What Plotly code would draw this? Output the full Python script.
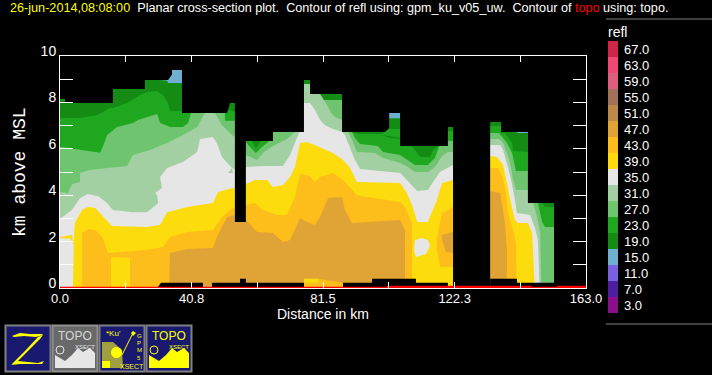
import plotly.graph_objects as go

W, H = 712, 375

# ---------- legend ----------
legend_levels = ["3.0", "7.0", "11.0", "15.0", "19.0", "23.0", "27.0", "31.0", "35.0",
                 "39.0", "43.0", "47.0", "51.0", "55.0", "59.0", "63.0", "67.0"]
legend_colors = ["#8b0f8b", "#4b1f9f", "#7b60e0", "#6fafd0", "#148c14", "#1fa81f", "#6fc46f",
                 "#a3d0a3", "#e6e6e6", "#fcdc0c", "#fdbd1a", "#e0a335", "#bd884a", "#a3705a",
                 "#de5f7d", "#f04873", "#cf2548"]

# ---------- reflectivity contours: upper edge of each band (km, km) ----------
c15, c19, c23, c27, c31, c35, c39, c43, c47 = ("#6fafd0", "#148c14", "#1fa81f", "#6fc46f", "#a3d0a3",
                                               "#e6e6e6", "#fcdc0c", "#fdbd1a", "#e0a335")
top_15 = [(0, 10), (163, 10)]
top_19 = [(0, 10), (31.3, 10), (31.3, 8.97), (33.2, 8.93), (33.5, 8.84), (37.8, 8.84), (37.8, 10), (102, 10),
          (102, 7.32), (105.4, 7.32), (105.4, 10), (141.6, 10), (141.6, 6.68), (145, 6.68), (145, 10), (163, 10)]
top_23 = [(0, 7.33), (6.2, 7.33), (11.5, 7.46), (15.5, 7.76), (16.4, 7.76), (20.8, 7.97), (24.8, 8.32), (27, 8.45),
          (30.1, 8.49), (31.9, 8.32), (33.5, 7.97), (34.1, 7.63), (37.8, 7.63), (51.4, 7.63), (52.7, 7.67), (54.2, 7.59),
          (57.6, 6.34), (59.5, 6.34), (60.7, 6.03), (62.3, 6.34), (63.2, 7.24), (89.9, 7.24), (90.5, 6.72), (92.3, 6.64),
          (99.5, 6.64), (99.8, 6.59), (102.3, 6.47), (105.4, 6.42), (105.4, 6.12), (108.8, 6.12), (110, 5.95), (111.6, 5.65),
          (114.7, 5.65), (115.6, 5.95), (117.1, 6.12), (120.2, 6.12), (120.2, 6.77), (121.8, 6.77), (133.3, 6.98),
          (136.7, 6.98), (136.7, 6.68), (137.9, 6.68), (140.1, 6.25), (140.4, 5.9), (145, 5.86), (145, 7.24), (148.8, 7.24),
          (148.8, 3.79), (150.3, 3.49), (153.1, 3.49), (163, 3.49)]
top_27 = [(0, 6.09), (6.2, 5.95), (12.4, 5.83), (13.3, 6.09), (14.6, 6.59), (17.7, 6.94), (22.6, 7.11), (24.2, 7.24),
          (30.1, 7.5), (31, 7.12), (34.1, 6.94), (38.1, 6.94), (39.7, 7.11), (40.6, 7.54), (40.6, 8.1), (51.1, 8.1),
          (51.1, 7.21), (54.2, 7.21), (57.6, 6.29), (58.9, 6.08), (60.7, 5.82), (62.6, 6.08), (64.5, 6.29), (65.1, 6.51),
          (65.4, 8.1), (89.9, 8.1), (90.5, 6.72), (91.4, 6.47), (93, 6.21), (98.5, 6.12), (100.1, 5.86), (105.4, 5.73),
          (107.8, 5.52), (110, 5.3), (114, 5.3), (116.2, 5.6), (117.5, 6.12), (118.7, 6.12), (120.2, 6.34), (121.8, 6.34),
          (133.3, 6.68), (136, 6.68), (137.3, 6.47), (138.5, 6.25), (140.1, 5.82), (141, 5.22), (141.3, 5.04), (145, 5.04),
          (145, 8.1), (147.8, 8.1), (148.1, 3.66), (149.4, 2.84), (150.3, 2.63), (153.1, 2.63), (163, 2.63)]
top_31 = [(0, 4.14), (2.5, 4.09), (3.7, 4.48), (6.2, 4.57), (6.2, 4.96), (9.3, 5.09), (14.6, 5.17), (20.8, 5.26),
          (22.6, 5.73), (27.9, 5.95), (33.2, 6.25), (38.1, 6.59), (42.5, 6.94), (44.9, 7.54), (48, 7.54), (50.2, 7.02),
          (53.3, 6.59), (54.2, 6.51), (57.6, 5.73), (58.9, 5.65), (61.1, 5.52), (62.9, 5.82), (66, 6.12), (70.3, 6.42),
          (72.8, 6.72), (75.6, 6.72), (75.6, 8.79), (77.5, 8.79), (80.6, 8.36), (83.1, 7.8), (84, 7.54), (85.2, 7.37),
          (87.4, 7.24), (89.3, 6.72), (90.8, 6.29), (92, 5.86), (97.6, 5.82), (100.1, 5.6), (105.4, 5.39), (107.8, 5.22),
          (110, 5.0), (114, 5.0), (116.2, 5.22), (118.4, 5.69), (120.2, 5.86), (121.8, 5.86), (133.3, 6.42), (136, 6.42),
          (137.3, 6.25), (138.5, 5.82), (139.5, 5.39), (140.4, 4.65), (141.3, 4.22), (146.3, 4.22), (146.6, 3.66),
          (147.8, 3.06), (148.8, 2.37), (149.1, 0.34), (149.4, 0), (163, 0)]
top_35 = [(0, 2.97), (3.7, 3.36), (6.2, 3.88), (8.7, 4.05), (11.8, 3.96), (14.6, 3.66), (16.4, 3.36), (22.6, 3.27),
          (27, 3.27), (30.4, 3.66), (30.1, 4.0), (29.5, 4.09), (31.6, 4.31), (31, 4.78), (33.2, 5.17), (38.1, 5.43),
          (42.5, 5.86), (43.4, 6.42), (47.4, 6.51), (48.6, 6.25), (50.2, 5.65), (52.7, 5.26), (54.2, 5.09), (57.6, 5.22),
          (64.2, 5.26), (69.1, 5.26), (71.3, 5.73), (72.8, 6.25), (73.7, 6.51), (74.4, 6.81), (75.6, 7.97), (77.5, 7.97),
          (79, 7.67), (80.6, 7.24), (82.1, 7.02), (84.6, 6.85), (87.4, 6.72), (88.3, 6.59), (89.9, 6.03), (91.4, 5.52),
          (93, 5.13), (102.3, 5.0), (105.4, 4.96), (107.5, 4.65), (110.7, 4.18), (114, 4.22), (115.6, 4.57), (117.7, 5.0),
          (121.8, 5.3), (133.3, 6.16), (136.4, 6.16), (137.3, 5.95), (138.8, 5.22), (139.8, 4.65), (141, 3.79),
          (141.6, 3.23), (145.7, 3.15), (147.2, 2.59), (148.1, 2.07), (148.4, 0.22), (148.6, 0), (163, 0)]
top_39 = [(0, 0), (4, 0), (4.3, 2.07), (4.6, 2.8), (6.8, 3.36), (8.7, 3.49), (10.9, 3.45), (13, 3.15), (16.1, 2.67),
          (27, 2.63), (31, 2.72), (33.2, 3.27), (39.4, 3.49), (47.4, 3.66), (49, 4.14), (53.6, 4.31), (57.6, 4.48),
          (60.4, 4.65), (64.2, 4.65), (66, 4.35), (69.1, 4.44), (71.3, 4.78), (72.8, 5.22), (74.4, 6.25), (76.5, 6.29),
          (79.6, 6.12), (84.6, 5.82), (87.7, 5.52), (89.9, 5.17), (92, 4.57), (105.4, 4.53), (107.5, 4.09), (109.1, 3.58),
          (110.7, 2.84), (114, 2.84), (116.8, 3.79), (118.4, 4.53), (121.8, 4.65), (133.3, 5.69), (135.4, 5.65),
          (137.3, 5.3), (138.5, 4.53), (139.5, 3.79), (141, 2.93), (141.9, 2.8), (145, 2.8), (146.3, 2.37), (146.6, 1.51),
          (146.9, 0.22), (147.1, 0), (163, 0)]
top_43 = [(0, 0), (6.8, 0), (6.8, 2.37), (8.7, 2.54), (10.9, 2.5), (13.3, 2.16), (14.9, 1.51), (21.1, 1.59), (27, 1.64),
          (31.9, 1.77), (34.1, 2.2), (39.4, 2.41), (47.4, 2.5), (50.2, 3.06), (53.6, 3.45), (60.4, 3.66), (62.9, 3.36),
          (67.3, 3.15), (70.3, 3.15), (72.8, 3.92), (74.4, 4.91), (77.5, 4.83), (79, 4.57), (80.6, 4.78), (84.6, 4.96),
          (87.7, 4.65), (89.9, 4.31), (92, 4.0), (95.2, 3.92), (105.4, 3.71), (106.9, 3.49), (109.1, 2.8), (109.1, 0),
          (133.3, 0), (133.3, 5.17), (135.7, 5.17), (137.3, 4.74), (138.2, 4.09), (138.8, 3.23), (140.4, 2.5),
          (141.3, 1.94), (141.5, 0), (163, 0)]
top_47 = [(0, 0), (33.8, 0), (34.1, 1.51), (39.4, 1.68), (47.4, 1.72), (48.6, 2.2), (51.8, 3.06), (54.2, 3.15),
          (57.6, 2.93), (61.1, 2.41), (66, 2.37), (69.1, 1.98), (71.3, 2.07), (72.8, 2.5), (74.4, 3.02), (76.5, 2.84),
          (79, 2.72), (80.6, 3.06), (83.1, 3.88), (87.4, 3.92), (88.3, 3.36), (90.5, 2.8), (105.4, 2.93), (106.9, 2.5),
          (106.9, 0.4), (107.2, 0), (133.3, 0), (133.3, 4.18), (136.4, 4.09), (137.9, 2.8), (138.5, 1.64), (138.5, 0.4),
          (138.7, 0), (163, 0)]

# ---------- closed pockets inside bands ----------
pocket_23 = [(99.5, 6.59), (100.7, 6.77), (102, 6.85), (105.4, 6.85), (105.4, 6.47), (102.3, 6.55)]
pocket_31 = [(52.1, 4.96), (53.3, 5.17), (53.6, 4.96)]
pocket_39_a = [(15.8, 1.34), (21.7, 1.29), (21.7, 0), (15.8, 0)]
pocket_39_b = [(0, 2.2), (3.7, 2.28), (4.3, 1.85), (3.2, 2.12), (0, 2.16)]
pocket_43_a = [(116.8, 2.16), (118.4, 3.23), (121.8, 3.49), (121.8, 0.9), (117.8, 0.9), (116.8, 1.64)]
pocket_43_b = [(75.6, 0.23), (80, 0.4), (87.7, 0.23), (87.7, 0), (75.6, 0)]
pocket_39_c = [(75.6, 0.4), (80.3, 0.4), (80, 0.23), (75.6, 0.23)]
pocket_47 = [(118.4, 2.28), (121.8, 2.41), (121.8, 1.51), (119.6, 1.55), (118.4, 2.07)]
pocket_35 = [(110, 2.07), (112.2, 2.16), (114, 2.07), (114.7, 1.81), (113.4, 1.47), (110.3, 1.34), (109.7, 1.64)]

# ---------- no-data above echo top, and below beam ----------
echo_top = [(0, 8.15), (1.55, 8.15), (1.55, 7.97), (16.4, 7.97), (16.4, 8.58), (26.3, 8.58), (26.3, 8.97), (33.5, 8.97),
            (34.7, 9.2), (34.7, 9.4), (37.8, 9.4), (37.8, 7.54), (51.8, 7.54), (52.7, 7.97), (54.2, 7.97), (54.2, 2.84),
            (57.6, 2.84), (57.6, 6.34), (66, 6.34), (66, 6.72), (75.6, 6.72), (75.6, 8.97), (77.5, 8.97), (77.5, 8.36),
            (87.4, 8.36), (87.4, 6.72), (100.7, 6.72), (102, 6.9), (102, 7.54), (105.4, 7.54), (105.4, 6.12), (120.2, 6.12),
            (120.2, 6.94), (121.8, 6.94), (121.8, 0), (133.3, 0), (133.3, 7.16), (136.7, 7.16), (136.7, 6.72), (145, 6.72),
            (145, 3.66), (153.1, 3.66), (153.1, 0), (163, 0), (163, 10), (0, 10)]
echo_base = [(0, 0), (30.1, 0), (31.3, 0.23), (44.3, 0.23), (44.3, 0), (47.1, 0), (47.1, 0.23), (55.8, 0.23), (55.8, 0.4),
             (57.6, 0.4), (57.6, 0.23), (75.6, 0.23), (75.6, 0), (87.7, 0), (87.7, 0.23), (96.7, 0.23), (96.7, 0.4),
             (110.3, 0.4), (110.3, 0.23), (120.2, 0.23), (120.2, 0), (133.3, 0), (133.3, 0.4), (141.6, 0.4), (141.6, 0.23),
             (153.1, 0.23), (163, 0)]

# ---------- topography (red) ----------
topo = [(0, 0.05), (101.3, 0.05), (101.3, 0.1), (146, 0.1), (146, 0.05), (154, 0.05), (154, 0.1), (163, 0.1)]

# ---------- texts ----------
x_tickvals = [0, 20.4, 40.8, 61.1, 81.5, 101.9, 122.3, 142.6, 163]
x_ticktext = ["0.0", "", "40.8", "", "81.5", "", "122.3", "", "163.0"]
y_tickvals = list(range(11))
y_ticktext = ["0", "", "2", "", "4", "", "6", "", "8", "", "10"]

FONT = "Liberation Sans"
fig = go.Figure()


def area(points, color, closed=False):
    xs = [p[0] for p in points]
    ys = [p[1] for p in points]
    if not closed:
        xs = xs + [xs[-1], xs[0]]
        ys = ys + [0, 0]
    fig.add_trace(go.Scatter(x=xs, y=ys, mode="lines", line=dict(width=0), fill="toself",
                             fillcolor=color, hoverinfo="skip", showlegend=False))


area(top_15, c15)
area(top_19, c19)
area(top_23, c23)
area(pocket_23, c23, True)
area(top_27, c27)
area(top_31, c31)
area(top_35, c35)
area(pocket_31, c31, True)
area(top_39, c39)
area(pocket_39_b, c39, True)
area(pocket_35, c35, True)
area(top_43, c43)
area(pocket_39_a, c39, True)
area(pocket_43_a, c43, True)
area(top_47, c47)
area(pocket_47, c47, True)
area(pocket_43_b, c43, True)
area(pocket_39_c, c39, True)
area(echo_top, "#000000", True)
area(echo_base, "#000000")
area(topo, "#ff0000")

fig.add_trace(go.Bar(y=legend_levels, x=[1] * len(legend_levels), orientation="h", width=1,
                     marker=dict(color=legend_colors, line=dict(width=0)),
                     xaxis="x2", yaxis="y2", hoverinfo="skip", showlegend=False))


def px(x):
    return x / W


def py(y):
    return 1 - y / H


shapes = []


def rect(x0, y0, x1, y1, fill, line=None, lw=0):
    shapes.append(dict(type="rect", xref="paper", yref="paper", x0=px(x0), x1=px(x1), y0=py(y1), y1=py(y0),
                       fillcolor=fill, line=dict(color=line or fill, width=lw), layer="above"))


def path(points, fill=None, line=None, lw=0):
    d = "M " + " L ".join(f"{px(a):.5f},{py(b):.5f}" for a, b in points) + (" Z" if fill else "")
    shapes.append(dict(type="path", xref="paper", yref="paper", path=d, fillcolor=fill or "rgba(0,0,0,0)",
                       line=dict(color=line or "rgba(0,0,0,0)", width=lw), layer="above"))


# panel rules
path([(606, 19), (712, 19)], line="#808080", lw=1)
path([(606, 324), (712, 324)], line="#808080", lw=1)

# buttons
NAVY = "#191970"
YEL = "#ffff00"
rect(5.5, 325.5, 50.5, 371.5, NAVY, "#808080", 2)
rect(52.5, 325.5, 97.5, 371.5, "#696969", "#909090", 2)
rect(99.5, 325.5, 144.5, 371.5, NAVY, "#808080", 2)
rect(146.5, 325.5, 191.5, 371.5, NAVY, "#808080", 2)

# "Z" glyph
path([(12, 336), (20, 333), (30, 334), (42, 334), (43, 335), (36, 337), (24, 336), (14, 337)], fill=YEL)
path([(43, 335), (38, 337), (24, 352), (12, 364), (15, 364), (27, 352), (40, 339)], fill=YEL)
path([(11, 365), (18, 361), (28, 362), (38, 363), (44, 361), (42, 364), (30, 364), (20, 364)], fill=YEL)

# terrain on the TOPO buttons
terrain = [(55, 368), (55, 355), (65, 361), (72, 355), (78, 348), (83, 352), (90, 348), (95, 353), (95, 368)]
path(terrain, fill="#e6e6e6")
path([(a + 94, b) for a, b in terrain], fill=YEL)
shapes.append(dict(type="circle", xref="paper", yref="paper", x0=px(56), x1=px(64), y0=py(354), y1=py(346),
                   fillcolor="rgba(0,0,0,0)", line=dict(color="#e6e6e6", width=1), layer="above"))
shapes.append(dict(type="circle", xref="paper", yref="paper", x0=px(150), x1=px(158), y0=py(354), y1=py(346),
                   fillcolor=NAVY, line=dict(color=YEL, width=1), layer="above"))

# GPM button art
path([(102, 368), (102, 342), (113, 342), (122, 350), (123, 368)], fill="#a0a040")
shapes.append(dict(type="circle", xref="paper", yref="paper", x0=px(111), x1=px(122), y0=py(358), y1=py(347),
                   fillcolor=YEL, line=dict(width=0), layer="above"))
rect(102, 361, 110, 368, YEL)
path([(133, 333), (122, 355)], line=YEL, lw=1)
path([(133, 331), (136, 333), (133, 336), (131, 333)], fill=YEL)


def label(x, y, text, size=13, color="#ffffff", anchor="left", family=FONT, angle=0, yanchor="middle"):
    return dict(xref="paper", yref="paper", x=px(x), y=py(y), text=text, showarrow=False, xanchor=anchor,
                yanchor=yanchor, font=dict(family=family, size=size, color=color), textangle=angle, borderpad=0,
                borderwidth=0)


S = "\u00a0"
annotations = [
    label(10, 7.5, f"<span style='color:#ffff00'>26-jun-2014,08:08:00</span>{S}{S}Planar cross-section plot.{S}{S}"
                   f"Contour of refl using: gpm_ku_v05_uw.{S}{S}Contour of <span style='color:#ff0000'>topo</span> using: topo.",
          size=12.65),
    label(608, 32, "refl", size=14),
    label(20, 172, "km above MSL", size=18, family="Liberation Mono", anchor="center", angle=-90),
    label(323, 314, "Distance in km", size=14, anchor="center"),
    label(75, 336, "TOPO", size=12, color="#d8d8d8", anchor="center"),
    label(85, 347, "XSECT", size=6, color="#e6e6e6", anchor="center"),
    label(169, 336, "TOPO", size=12, color=YEL, anchor="center"),
    label(179, 347, "XSECT", size=6, color=YEL, anchor="center"),
    label(113, 333, "*Ku'", size=8, color=YEL, anchor="center"),
    label(139, 336, "G", size=6, color=YEL, anchor="center"),
    label(139, 343, "P", size=6, color=YEL, anchor="center"),
    label(139, 350, "M", size=6, color=YEL, anchor="center"),
    label(139, 358, "5", size=6, color=YEL, anchor="center"),
    label(132, 366, "XSECT", size=7, color=YEL, anchor="center"),
]

fig.update_layout(
    width=W, height=H, autosize=False,
    margin=dict(l=0, r=0, t=0, b=0, pad=0, autoexpand=False),
    paper_bgcolor="#000000", plot_bgcolor="#000000",
    font=dict(family=FONT, color="#ffffff", size=13),
    showlegend=False, bargap=0, shapes=shapes, annotations=annotations,
    xaxis=dict(domain=[60 / W, 586 / W], range=[0, 163], showgrid=False, zeroline=False, showline=True,
               linecolor="#ffffff", linewidth=1, mirror="allticks", ticks="inside", ticklen=6, tickcolor="#ffffff",
               tickwidth=1, tickmode="array", tickvals=x_tickvals, ticktext=x_ticktext, tickangle=0,
               tickfont=dict(family=FONT, size=13, color="#ffffff"), ticklabelstandoff=-2, automargin=False),
    yaxis=dict(domain=[87 / H, 319 / H], range=[0, 10], showgrid=False, zeroline=False, showline=True,
               linecolor="#ffffff", linewidth=1, mirror="allticks", ticks="inside", ticklen=13, tickcolor="#ffffff",
               tickwidth=1, tickmode="array", tickvals=y_tickvals, ticktext=y_ticktext, automargin=False,
               tickfont=dict(family=FONT, size=14, color="#ffffff"), ticklabelshift=-5, ticklabelstandoff=0),
    xaxis2=dict(domain=[608 / W, 618 / W], range=[0, 1], visible=False, anchor="y2", fixedrange=True),
    yaxis2=dict(domain=[(H - 313) / H, (H - 41) / H], anchor="x2", side="right", type="category",
                categoryorder="array", categoryarray=legend_levels, range=[-0.5, 16.5], showgrid=False,
                tickmode="array", tickvals=legend_levels, ticktext=legend_levels, automargin=False,
                zeroline=False, showline=False, ticks="", tickfont=dict(family=FONT, size=13, color="#ffffff"),
                ticklabelstandoff=5),
)

fig.write_html("out.html", config=dict(displayModeBar=False, staticPlot=True),
               post_script="document.body.style.margin='0';document.body.style.background='#000';document.body.style.overflow='hidden';")
